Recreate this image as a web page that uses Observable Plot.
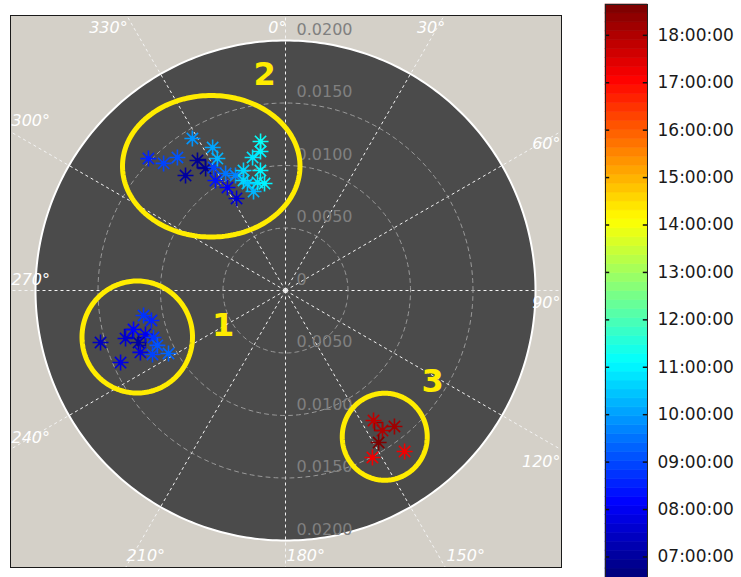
<!DOCTYPE html>
<html><head><meta charset="utf-8">
<script src="https://cdn.jsdelivr.net/npm/d3@7"></script>
<script src="https://cdn.jsdelivr.net/npm/@observablehq/plot@0.6"></script>
<style>
body{margin:0;background:#fff;}
#wrap{position:relative;width:741px;height:577px;overflow:hidden;background:#fff;}
#polar{position:absolute;left:0;top:0;}
#cbar{position:absolute;left:590px;top:0;}
</style></head><body><div id="wrap"><div id="polar"></div><div id="cbar"></div></div>
<script>
// ---------- data (azimuth in degrees clockwise from north, radius, time of day) ----------
const pointAzimuth = [
  // group 2
  328.5, 313.9, 316.2, 320.9, 325.9, 326.8, 319.0, 333.0, 332.7, 327.5, 329.7, 332.9, 330.6,
  332.0, 336.5, 340.7, 340.4, 342.1, 346.1, 350.5, 349.8, 348.2, 345.5, 348.9, 339.1,
  // group 1
  260.0, 257.4, 254.3, 253.3, 255.6, 250.5, 252.6, 250.4, 246.8, 246.9, 244.3, 241.7, 246.4,
  // group 3
  152.5, 143.5, 145.9, 145.3, 141.3, 148.5
];
const pointRadius = [
  0.01426, 0.01522, 0.01409, 0.01371, 0.01256, 0.01167, 0.01219, 0.01284, 0.01188, 0.01043, 0.01140, 0.01052, 0.00946,
  0.00834, 0.01003, 0.01017, 0.00908, 0.00832, 0.01096, 0.01209, 0.01130, 0.00981, 0.00893, 0.00872, 0.00942,
  0.01153, 0.01099, 0.01537, 0.01336, 0.01255, 0.01247, 0.01174, 0.01121, 0.01115, 0.01262, 0.01181, 0.01063, 0.01440,
  0.01506, 0.01602, 0.01256, 0.01363, 0.01394, 0.01426
];
const pointTime = [
  "09:50", "08:30", "08:50", "09:05", "06:55", "06:50", "07:05", "10:05", "10:15", "08:20", "09:00", "09:30", "08:00",
  "07:40", "09:45", "10:40", "10:30", "10:10", "10:50", "11:10", "11:00", "11:00", "10:50", "11:05", "10:35",
  "08:40", "08:30", "07:30", "07:40", "08:10", "07:00", "08:00", "08:40", "09:10", "07:50", "09:00", "09:20", "07:45",
  "17:10", "17:15", "17:45", "18:00", "18:15", "18:30"
];
// hollow square markers
const squareAzimuth = [326.5, 254.7, 250.5, 145.6];
const squareRadius = [0.01218, 0.01302, 0.01222, 0.01318];
const squareTime = ["06:55", "07:30", "07:00", "18:20"];

// radial axis
const ringValues = [0.005, 0.010, 0.015];
const outerRadius = 0.020;
const radiusLabelsUpper = [0, 0.005, 0.010, 0.015, 0.020];
const radiusLabelsLower = [0.005, 0.010, 0.015, 0.020];
const angleTicks = [0, 30, 60, 90, 120, 150, 180, 210, 240, 270, 300, 330];

// colour bar
const timeMin = "06:34";
const timeMax = "18:39";
const colorbarTicks = ["07:00:00","08:00:00","09:00:00","10:00:00","11:00:00","12:00:00",
                       "13:00:00","14:00:00","15:00:00","16:00:00","17:00:00","18:00:00"];

// annotations (centre x/y, radii, in data units)
const groupLabels = ["1", "2", "3"];
const groupLabelX = [-0.0050, -0.00168, 0.01176];
const groupLabelY = [-0.00276, 0.01736, -0.0072];
const ellipseCX = [-0.01186, -0.00594, 0.00794];
const ellipseCY = [-0.00372, 0.00994, -0.0117];
const ellipseRX = [0.00442, 0.0071, 0.0034];
const ellipseRY = [0.00448, 0.00566, 0.00348];

// ---------- helpers ----------
const toHours = s => { const p = s.split(":").map(Number); return p[0] + p[1] / 60 + (p[2] || 0) / 3600; };
const tMin = toHours(timeMin), tMax = toHours(timeMax);
const rad = a => a * Math.PI / 180;

// MATLAB-like jet, 64 levels
const NJ = 64;
const clamp = v => Math.max(0, Math.min(1, v));
const jet = d3.range(NJ).map(i => {
  const x = i / (NJ - 1);
  const r = clamp(Math.min(4 * x - 1.5, -4 * x + 4.5));
  const g = clamp(Math.min(4 * x - 0.5, -4 * x + 3.5));
  const b = clamp(Math.min(4 * x + 0.5, -4 * x + 2.5));
  return d3.rgb(r * 255, g * 255, b * 255).formatHex();
});
const thresholds = d3.range(1, NJ).map(i => tMin + i * (tMax - tMin) / NJ);
const colorScale = {type: "threshold", domain: thresholds, range: jet};

const points = pointAzimuth.map((a, i) => ({
  x: pointRadius[i] * Math.sin(rad(a)),
  y: pointRadius[i] * Math.cos(rad(a)),
  t: toHours(pointTime[i])
})).sort((p, q) => p.t - q.t);
const squares = squareAzimuth.map((a, i) => ({
  x: squareRadius[i] * Math.sin(rad(a)),
  y: squareRadius[i] * Math.cos(rad(a)),
  t: toHours(squareTime[i])
}));

const ellipse = (cx, cy, rx, ry, id, n = 200) =>
  d3.range(n + 1).map(k => { const a = 2 * Math.PI * k / n; return {x: cx + rx * Math.cos(a), y: cy + ry * Math.sin(a), id}; });

const rings = ringValues.flatMap((r, i) => ellipse(0, 0, r, r, i, 240));
const disk = ellipse(0, 0, outerRadius, outerRadius, 0, 360);
const ellipses = ellipseCX.flatMap((cx, i) => ellipse(cx, ellipseCY[i], ellipseRX[i], ellipseRY[i], i));

// panel (frame) extents in data units
const xDom = [-0.022, 0.02208], yDom = [-0.02216, 0.022];
const angleLabelData = angleTicks.map(a => {
  const sx = Math.sin(rad(a)), sy = Math.cos(rad(a));
  const cands = [];
  if (sx > 1e-9) cands.push([xDom[1] / sx, "right"]);
  if (sx < -1e-9) cands.push([xDom[0] / sx, "left"]);
  if (sy > 1e-9) cands.push([yDom[1] / sy, "top"]);
  if (sy < -1e-9) cands.push([yDom[0] / sy, "bottom"]);
  cands.sort((p, q) => p[0] - q[0]);
  const [t, edge] = cands[0];
  return {a, x: t * sx, y: t * sy, edge, label: a + "°"};
});
const radial = angleTicks.map(a => ({x2: 0.05 * Math.sin(rad(a)), y2: 0.05 * Math.cos(rad(a))}));

const radLabels = [
  ...radiusLabelsUpper.map(r => ({y: r, label: r === 0 ? "0" : r.toFixed(4)})),
  ...radiusLabelsLower.map(r => ({y: -r, label: r.toFixed(4)}))
];

const star8 = {
  draw(ctx, size) {
    const r = Math.sqrt(size / Math.PI), d = r * Math.SQRT1_2;
    ctx.moveTo(-r, 0); ctx.lineTo(r, 0);
    ctx.moveTo(0, -r); ctx.lineTo(0, r);
    ctx.moveTo(-d, -d); ctx.lineTo(d, d);
    ctx.moveTo(-d, d); ctx.lineTo(d, -d);
  }
};

const angleText = (edge, opts) => Plot.text(angleLabelData.filter(d => d.edge === edge), {
  x: "x", y: "y", text: "label", fill: "white", fontStyle: "italic", fontSize: 16, ...opts
});

const polar = Plot.plot({
  width: 590, height: 577,
  marginLeft: 10, marginRight: 29, marginTop: 15, marginBottom: 10,
  x: {domain: xDom, axis: null},
  y: {domain: yDom, axis: null},
  color: colorScale,
  style: {fontFamily: "DejaVu Sans, sans-serif", background: "transparent"},
  marks: [
    Plot.frame({fill: "#d4d0c8"}),
    Plot.line(disk, {x: "x", y: "y", fill: "#4b4b4b", stroke: "none"}),
    Plot.link(radial, {x1: 0, y1: 0, x2: "x2", y2: "y2", stroke: "#f4f4f4", strokeDasharray: "3,3", strokeWidth: 1, clip: true}),
    Plot.line(rings, {x: "x", y: "y", z: "id", stroke: "#9a9a9a", strokeDasharray: "4,4", strokeWidth: 1}),
    Plot.line(disk, {x: "x", y: "y", stroke: "white", strokeWidth: 2}),
    Plot.text(radLabels, {x: 0, y: "y", text: "label", textAnchor: "start", dx: 11, dy: -11, fill: "#808080", fontSize: 16}),
    angleText("top", {textAnchor: "end", dx: 1, dy: 12.5}),
    angleText("left", {textAnchor: "start", dx: 1, dy: -11}),
    angleText("right", {textAnchor: "end", dx: -1, dy: 12.5}),
    angleText("bottom", {textAnchor: "start", dx: 1, dy: -12}),
    Plot.dot(squares, {x: "x", y: "y", symbol: "square", r: 4.5, fill: "none", stroke: "t", strokeWidth: 1.5}),
    Plot.dot(points, {x: "x", y: "y", symbol: star8, r: 8, fill: "none", stroke: "t", strokeWidth: 1.6}),
    Plot.dot(points, {x: "x", y: "y", r: 2.3, fill: "t", stroke: "none"}),
    Plot.line(ellipses, {x: "x", y: "y", z: "id", stroke: "#ffec00", strokeWidth: 5}),
    Plot.text(groupLabels, {x: (d, i) => groupLabelX[i], y: (d, i) => groupLabelY[i], text: d => d,
      fill: "#ffec00", fontSize: 32, fontWeight: "bold", dy: 1}),
    Plot.frame({stroke: "#1a1a1a", strokeWidth: 1})
  ]
});
document.getElementById("polar").appendChild(polar);

// ---------- colour bar ----------
const bands = d3.range(NJ).map(i => {
  const lo = tMin + i * (tMax - tMin) / NJ, hi = tMin + (i + 1) * (tMax - tMin) / NJ;
  return {lo, hi, mid: (lo + hi) / 2};
});
const tickHours = colorbarTicks.map(toHours);
const cbar = Plot.plot({
  width: 151, height: 577,
  marginLeft: 15, marginRight: 94, marginTop: 4, marginBottom: 0,
  x: {domain: [0, 1], axis: null},
  y: {domain: [tMin, tMax], axis: "right", ticks: tickHours, tickSize: 0, tickPadding: 10,
      tickFormat: h => colorbarTicks[tickHours.indexOf(h)], label: null},
  color: colorScale,
  style: {fontFamily: "DejaVu Sans, sans-serif", fontSize: "17px", color: "#1a1a1a", background: "transparent"},
  marks: [
    Plot.rect(bands, {x1: 0, x2: 1, y1: "lo", y2: "hi", fill: "mid", stroke: "mid", strokeWidth: 0.6}),
    Plot.ruleY(tickHours, {x1: 0, x2: 0.1, stroke: "#111", strokeWidth: 1.5}),
    Plot.ruleY(tickHours, {x1: 0.9, x2: 1, stroke: "#111", strokeWidth: 1.5}),
    Plot.frame({stroke: "#222"})
  ]
});
document.getElementById("cbar").appendChild(cbar);
</script></body></html>
